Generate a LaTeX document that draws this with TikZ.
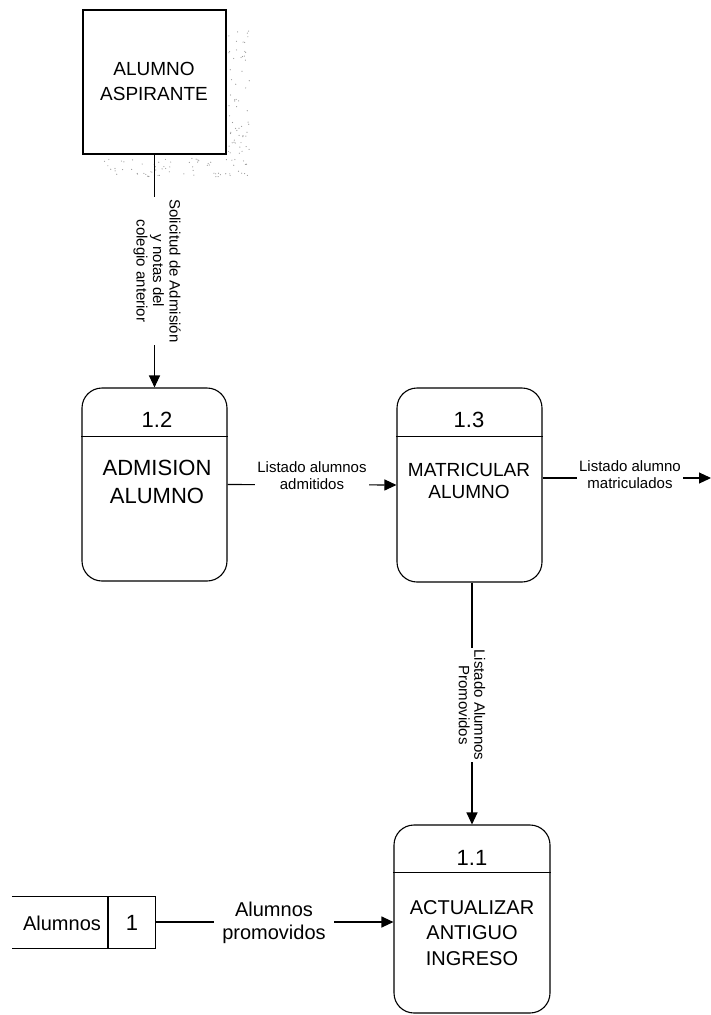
\documentclass[tikz,border=0pt]{standalone}
\usepackage{fontspec}
\setmainfont{Liberation Sans}
\usetikzlibrary{arrows.meta,calc}

\tikzset{
  line/.style={line width=1.1pt, draw=black},
  flow/.style={line, -{Triangle[length=12pt,width=11pt]}},
  procbox/.style={line, rectangle, rounded corners=20pt, inner sep=0pt},
  entbox/.style={line, rectangle, inner sep=0pt},
  txt/.style={inner sep=0pt, align=center},
  flowlabel/.style={inner sep=2pt, fill=white, align=center, font=\fontsize{15}{17}\selectfont},
  dot/.style={fill=black!40},
}

\begin{document}
\begin{tikzpicture}[x=1pt, y=-1pt]
\useasboundingbox (0,0) rectangle (711,1015);

% stippled shadow of the external entity
\pgfmathsetseed{12}
\foreach \i in {1,...,60} {
  \pgfmathsetmacro\xx{228+22*rnd}
  \pgfmathsetmacro\yy{30+125*rnd}
  \fill[dot] (\xx,\yy) circle (0.6);
}
\foreach \i in {1,...,70} {
  \pgfmathsetmacro\xx{103+147*rnd}
  \pgfmathsetmacro\yy{157+20*rnd}
  \fill[dot] (\xx,\yy) circle (0.6);
}

% external entity
\node[entbox, fill=white, minimum width=143pt, minimum height=144pt] (ent) at (154.5,82) {};
\node[txt, font=\fontsize{19}{25}\selectfont] (entT) at (154,81) {ALUMNO\\ASPIRANTE};

% processes
\node[procbox, minimum width=145pt, minimum height=193pt] (p12) at (154.5,484.5) {};
\draw[line] ($(p12.north west)+(0,49)$) coordinate (p12a) -- (p12a -| p12.east);
\node[txt, font=\fontsize{22}{24}\selectfont] (p12n) at (157,420) {1.2};
\node[txt, font=\fontsize{22}{28}\selectfont] (p12T) at (157,482) {ADMISION\\ALUMNO};

\node[procbox, minimum width=145pt, minimum height=194pt] (p13) at (469.5,485) {};
\draw[line] ($(p13.north west)+(0,49)$) coordinate (p13a) -- (p13a -| p13.east);
\node[txt, font=\fontsize{22}{24}\selectfont] (p13n) at (469,420) {1.3};
\node[txt, font=\fontsize{19}{22}\selectfont] (p13T) at (469,481) {MATRICULAR\\ALUMNO};

\node[procbox, minimum width=156pt, minimum height=188pt] (p11) at (472,919) {};
\draw[line] ($(p11.north west)+(0,48)$) coordinate (p11a) -- (p11a -| p11.east);
\node[txt, font=\fontsize{22}{24}\selectfont] (p11n) at (472,858) {1.1};
\node[txt, font=\fontsize{20}{25.5}\selectfont] (p11T) at (472,933) {ACTUALIZAR\\ANTIGUO\\INGRESO};

% data store
\node[inner sep=0pt, minimum width=143pt, minimum height=51pt] (store) at (83.5,922.5) {};
\draw[line] (store.north west) -- (store.north east) -- (store.south east) -- (store.south west);
\draw[line] (store.north west -| 108,0) coordinate (sd) -- (sd |- store.south);
\node[txt, font=\fontsize{20}{22}\selectfont] (storeT) at (62,923) {Alumnos};
\node[txt, font=\fontsize{22}{24}\selectfont] (storeN) at (132,923) {1};

% data flows
\draw[flow] (ent.south) -- (p12.north);
\node[flowlabel, rotate=-90, font=\fontsize{15}{16.5}\selectfont] (l1) at (157,271)
  {Solicitud de Admisión\\y notas del\\colegio anterior};

\draw[flow] (p12.east) -- (p13.west);
\node[flowlabel] (l2) at (312,476) {Listado alumnos\\admitidos};

\coordinate (out) at (711,478);
\draw[flow] (p13.east |- out) -- (out);
\node[flowlabel] (l3) at (630,475) {Listado alumno\\matriculados};

\draw[flow] (p11.north |- p13.south) -- (p11.north);
\node[flowlabel, rotate=-90, font=\fontsize{15}{15.5}\selectfont] (l4) at (472,705)
  {Listado Alumnos\\Promovidos};

\draw[flow] (store.east |- 0,922) -- (p11.west |- 0,922);
\node[flowlabel, font=\fontsize{20}{23}\selectfont, inner xsep=8pt] (l5) at (274,923) {Alumnos\\promovidos};
\end{tikzpicture}
\end{document}
